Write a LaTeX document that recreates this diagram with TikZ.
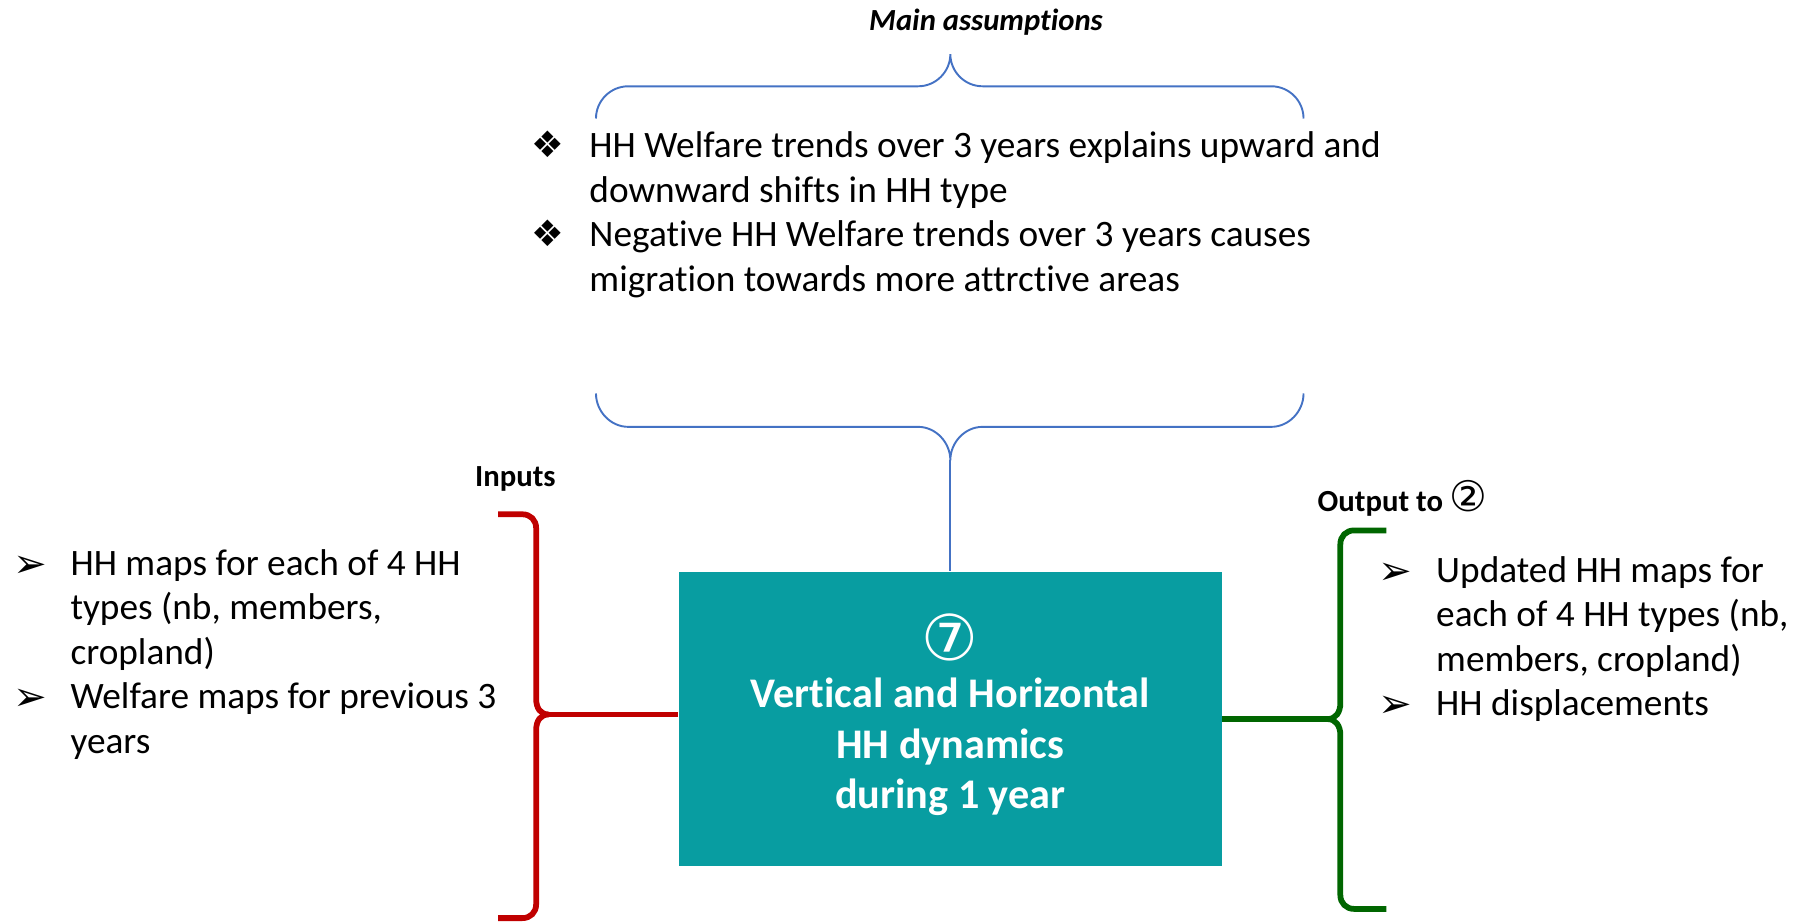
\documentclass[tikz,border=0pt]{standalone}
\usepackage{fontspec}
\setmainfont{Carlito}[Ligatures={NoCommon}]
\newfontfamily\dv{DejaVu Sans}
\definecolor{teal1}{RGB}{8,157,161}
\definecolor{bred}{RGB}{192,0,0}
\definecolor{bgreen}{RGB}{0,102,0}
\definecolor{bblue}{RGB}{68,114,196}
\newcommand\dmd{\makebox[30pt][l]{\dv\fontsize{19}{19}\selectfont ❖}}
\newcommand\arw{\makebox[30pt][l]{\dv\fontsize{21}{21}\selectfont\raisebox{-1pt}{➢}}}
\tikzset{
  lbl/.style={inner sep=0pt, font=\bfseries\fontsize{16}{19}\selectfont},
  lst/.style={inner sep=0pt, anchor=base west, font=\fontsize{19.45}{23.2}\selectfont},
  mainbox/.style={fill=teal1, inner sep=0pt, minimum width=283.2pt, minimum height=153.6pt,
    text=white, font=\bfseries\fontsize{22}{26.4}\selectfont},
  bluebrace/.style={draw=bblue, line width=1pt},
  redbrk/.style={draw=bred, line width=3pt},
  greenbrk/.style={draw=bgreen, line width=3pt}
}
\begin{document}
\begin{tikzpicture}[x=0.6pt,y=-0.6pt]
\useasboundingbox (0,0) rectangle (1568,801);

% labels
\node[lbl, font=\bfseries\itshape\fontsize{16}{19}\selectfont] (title) at (857,19) {Main assumptions};
\node[lbl] (inputs) at (448,416) {Inputs};
\node[lbl, anchor=west] (output) at (1145,433) {Output to {\dv\mdseries\fontsize{22}{22}\selectfont ②}};

% assumptions list
\node[lst] (assume) at (462,137) {\begin{tabular}[t]{@{}l@{}l@{}}
\dmd & HH Welfare trends over 3 years explains upward and\\
 & downward shifts in HH type\\
\dmd & Negative HH Welfare trends over 3 years causes\\
 & migration towards more attrctive areas
\end{tabular}};

% inputs list
\node[lst] (inlist) at (11,500) {\begin{tabular}[t]{@{}l@{}l@{}}
\arw & HH maps for each of 4 HH\\
 & types (nb, members,\\
 & cropland)\\
\arw & Welfare maps for previous 3\\
 & years
\end{tabular}};

% outputs list
\node[lst] (outlist) at (1198,506) {\begin{tabular}[t]{@{}l@{}l@{}}
\arw & Updated HH maps for\\
 & each of 4 HH types (nb,\\
 & members, cropland)\\
\arw & HH displacements
\end{tabular}};

% main box
\node[mainbox] (box) at (826,625) {\begin{tabular}{@{}c@{}}
{\dv\mdseries\fontsize{33}{33}\selectfont ⑦}\\[-2pt]
Vertical and Horizontal\\
HH dynamics\\
during 1 year
\end{tabular}};

% top brace
\coordinate (ttip) at (826,47);
\draw[bluebrace] (518,103) .. controls (518,87.6) and (530.6,75) .. (546,75) -- (798,75)
  .. controls (813.4,75) and (826,62.4) .. (ttip)
  .. controls (826,62.4) and (838.6,75) .. (854,75) -- (1105,75)
  .. controls (1120.4,75) and (1133,87.6) .. (1133,103);

% bottom brace
\coordinate (btip) at (826,400);
\draw[bluebrace] (518,342) .. controls (518,357.4) and (530.6,371) .. (546,371) -- (798,371)
  .. controls (813.4,371) and (826,384.6) .. (btip)
  .. controls (826,384.6) and (838.6,371) .. (854,371) -- (1105,371)
  .. controls (1120.4,371) and (1133,357.4) .. (1133,342);
\draw[bluebrace] (btip) -- (box.north);

% red bracket
\coordinate (ltip) at (477,621);
\draw[redbrk] (433,447) -- (454,447) .. controls (461,447) and (466,452) .. (466,459) -- (466,607)
  .. controls (466,616) and (470,621) .. (ltip)
  .. controls (470,621) and (466,626) .. (466,635) -- (466,786)
  .. controls (466,793) and (461,798) .. (454,798) -- (433,798);
\draw[redbrk] (ltip) -- (ltip -| box.west);

% green bracket
\coordinate (rtip) at (1154,625);
\draw[greenbrk] (1205,461) -- (1177,461) .. controls (1170,461) and (1165,466) .. (1165,473) -- (1165,611)
  .. controls (1165,619) and (1161,625) .. (rtip)
  .. controls (1161,625) and (1165,631) .. (1165,639) -- (1165,778)
  .. controls (1165,785) and (1170,790) .. (1177,790) -- (1205,790);
\draw[greenbrk] (rtip -| box.east) -- (rtip);
\end{tikzpicture}
\end{document}
